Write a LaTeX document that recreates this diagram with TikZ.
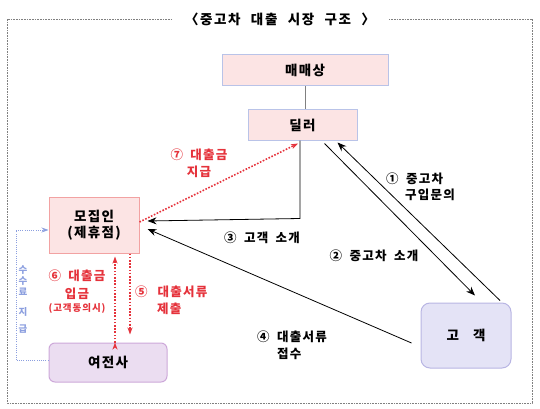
\documentclass[tikz,border=0pt]{standalone}
\usepackage{fontspec}
\setmainfont{Noto Sans CJK KR}
\newfontfamily\krspaced{Noto Sans CJK KR}[LetterSpace=10,WordSpace=1.8]
\newfontfamily\krtitle{Noto Sans CJK KR}[LetterSpace=12,WordSpace=2.2]
\usepackage{tikz}
\usetikzlibrary{arrows.meta}

\definecolor{boxpink}{HTML}{FCE4E4}
\definecolor{boxblue}{HTML}{B9C3E8}
\definecolor{boxsalmon}{HTML}{F2A2A2}
\definecolor{boxlilac}{HTML}{EBDDF1}
\definecolor{lineslilac}{HTML}{CDA8D9}
\definecolor{boxcust}{HTML}{E4E3F6}
\definecolor{linecust}{HTML}{B8B5E3}
\definecolor{loanred}{HTML}{E5323B}
\definecolor{feeblue}{HTML}{8C9FDF}

\begin{document}
\begin{tikzpicture}[x=1pt,y=-1pt]
\tikzset{edge/.style = {->,> = {Stealth[length=9pt,width=7pt,inset=3pt]}, line width=0.8pt},
  redge/.style = {->,> = {Stealth[length=7pt,width=5pt,inset=2pt]}, draw=loanred, line width=1.6pt, dash pattern=on 1.6pt off 1.6pt},
  box/.style = {draw, line width=1pt, font=\krspaced\bfseries\fontsize{13.5}{16}\selectfont, inner sep=0pt},
  lbl/.style = {font=\krspaced\bfseries\fontsize{12.5}{16.5}\selectfont, inner sep=0pt}}

\useasboundingbox (0,0) rectangle (540,409);

% frame and title
\draw[gray, line width=0.7pt, dash pattern=on 1pt off 0.6pt] (172,19) -| (7,403) -| (532,19) -- (389,19);
\node[font=\krtitle\bfseries\fontsize{13.5}{15}\selectfont] (T) at (280,19) {〈중고차 대출 시장 구조 〉};

\node[box, draw=boxblue, fill=boxpink, minimum width=166pt, minimum height=31pt] (M) at (305,70.5) {매매상};
\node[box, draw=boxblue, fill=boxpink, minimum width=109pt, minimum height=30pt] (D) at (302.5,125) {딜러};
\node[box, draw=boxsalmon, fill=boxpink, minimum width=90pt, minimum height=56pt, align=center] (R) at (94,225) {모집인\\(제휴점)};
\node[box, draw=lineslilac, fill=boxlilac, rounded corners=6pt, minimum width=118pt, minimum height=39pt] (Y) at (108,362.5) {여전사};
\node[box, draw=linecust, fill=boxcust, rounded corners=9pt, minimum width=90pt, minimum height=65pt] (C) at (466,335.5) {고\hspace{14pt}객};

\draw[gray, line width=1pt] (M) -- (M |- D.north);

\path [edge]
([xshift=34pt,yshift=2pt]C.north) edge ([xshift=35pt,yshift=-2pt]D.south)
([xshift=22pt,yshift=-3pt]D.south) edge ([xshift=9pt,yshift=7pt]C.north)
([xshift=-9pt,yshift=-7.5pt]C.west) edge ([xshift=8pt,yshift=-4pt]R.east)
;
\draw[edge] ([xshift=-2.5pt]D.south) -- ++(0,78) -- ([xshift=8pt,yshift=4pt]R.east);

\path [redge]
([yshift=3pt]R.east) edge ([xshift=-4.5pt,yshift=-3pt]D.south)
([xshift=36pt]R.south) edge ([xshift=22pt,yshift=8pt]Y.north)
([xshift=7pt]Y.north) edge ([xshift=21pt,yshift=-3pt]R.south)
;

% fee
\draw[feeblue, line width=0.8pt, dash pattern=on 1pt off 1.2pt, -{Stealth[length=7pt,width=5pt,inset=2.5pt]}] ([yshift=2pt]Y.west) -| (16,230) -- ([yshift=-5pt]R.west);
\node[text=feeblue, font=\bfseries\fontsize{9.5}{11}\selectfont, align=center, inner sep=0pt] (F) at (23,300) {수\\수\\료\\[9pt]지\\[6pt]급};

% labels
\node[lbl, text=loanred, align=center] (L7) at (199,163) {⑦ 대출금\\지급};
\node[lbl, anchor=west, align=left] (L1) at (386,187) {① 중고차\\\hspace*{19pt}구입문의};
\node[lbl] (L3) at (262,238) {③ 고객 소개};
\node[lbl] (L2) at (374,256) {② 중고차 소개};
\node[lbl, anchor=west, align=left] (L4) at (257,345) {④ 대출서류\\\hspace*{20pt}접수};
\node[lbl, text=loanred, anchor=west, align=left] (L5) at (135,300) {⑤\hspace{10pt}대출서류\\\hspace*{22pt}제출};
\node[lbl, text=loanred, align=center] (L6) at (77,292) {⑥ 대출금\\[1pt]입금\\[-3pt]{\fontsize{9.5}{10}\selectfont (고객동의시)}};

\end{tikzpicture}
\end{document}
